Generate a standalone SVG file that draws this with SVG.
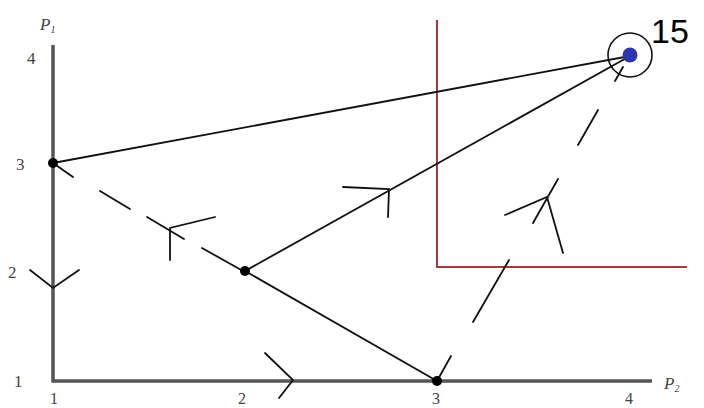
<svg xmlns="http://www.w3.org/2000/svg" width="704" height="408" viewBox="0 0 704 408">
<style>
.ax{stroke:#555;stroke-width:3.5;fill:none}
.ln{stroke:#111;stroke-width:1.8;fill:none;stroke-linecap:round}
.rd{stroke:#a03c3c;stroke-width:2;fill:none}
.lab{font-family:"Liberation Serif",serif;font-size:17px;fill:#444}
.bl{font-size:16px}
.dot{fill:#000}
</style>
<rect width="704" height="408" fill="#fff"/>
<g id="axes">
<path class="ax" d="M53,45 V381 H652"/>
<text class="lab" x="40" y="30" font-style="italic" font-size="19">P<tspan font-size="10" dy="3">1</tspan></text>
<text class="lab" x="664" y="389" font-style="italic" font-size="19">P<tspan font-size="10" dy="3">2</tspan></text>
<text class="lab" x="27" y="64">4</text>
<text class="lab" x="16" y="170">3</text>
<text class="lab" x="8" y="278">2</text>
<text class="lab" x="14" y="387">1</text>
<text class="lab bl" x="50" y="404">1</text>
<text class="lab bl" x="238" y="404">2</text>
<text class="lab bl" x="432" y="404">3</text>
<text class="lab bl" x="625" y="404">4</text>
</g>
<g id="region">
<path class="rd" d="M437,20 V267 H687"/>
</g>
<g id="connectors">
<line class="ln" x1="53" y1="163" x2="630" y2="56"/>
<line class="ln" x1="245" y1="271" x2="437" y2="381"/>
<line class="ln" x1="245" y1="271" x2="630" y2="56"/>
<path class="ln" d="M53,163 L73,177 M100,191 L130,209 M147,217 L184,239 M202,248 L243,271"/>
<path class="ln" d="M437,381 L451,356 M473,322 L509,260 M533,223 L558,179 M578,145 L598,110 M615,81 L623,67"/>
<path class="ln" d="M170,260 L170,228 L215,217"/>
<path class="ln" d="M343,187 L389,189 L388,217"/>
<path class="ln" d="M505,215 L547,197 L563,253"/>
<path class="ln" d="M30,270 L53,288 L79,270"/>
<path class="ln" d="M265,353 L293,380 L279,398"/>
</g>
<g id="p13"><circle class="dot" cx="53" cy="163" r="5"/></g>
<g id="p22"><circle class="dot" cx="245" cy="271" r="5"/></g>
<g id="p31"><circle class="dot" cx="437" cy="381" r="5"/></g>
<g id="p44">
<circle cx="630" cy="55" r="22" fill="none" stroke="#111" stroke-width="1.6"/>
<circle cx="630" cy="55" r="7.5" fill="#2a35b0"/>
<text x="651" y="43" font-family="Liberation Sans,Arial,sans-serif" font-size="34" fill="#000">15</text>
</g>
</svg>
